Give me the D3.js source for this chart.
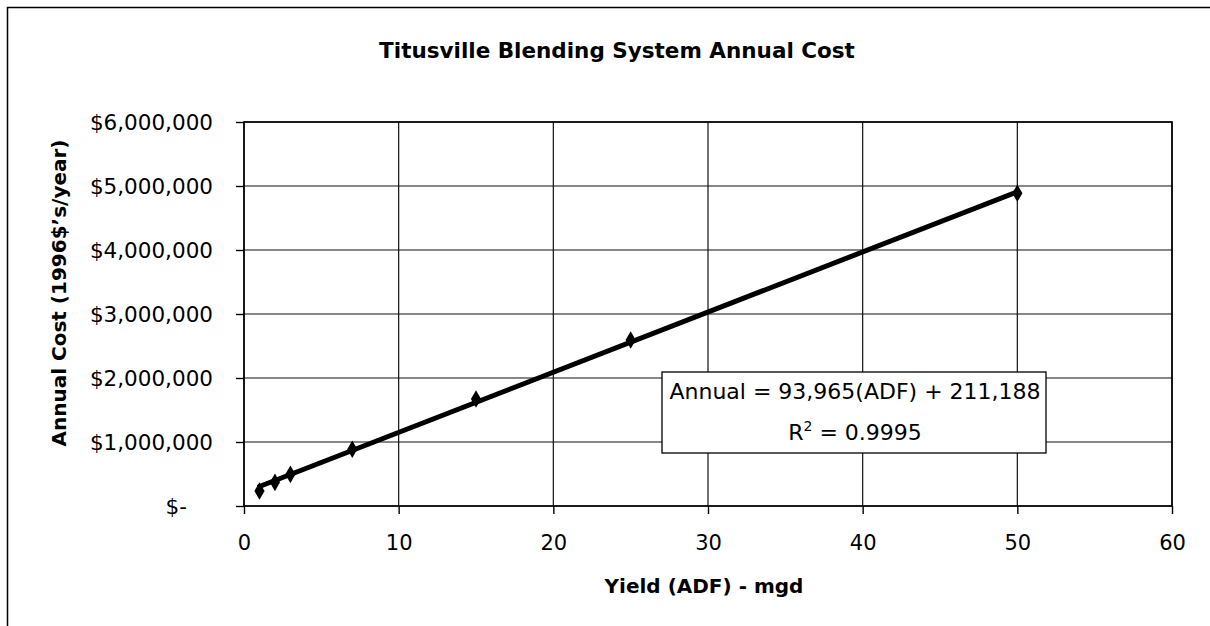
<!DOCTYPE html>
<html>
<head>
<meta charset="utf-8">
<script src="https://cdn.jsdelivr.net/npm/d3@7"></script>
<style>
  body { margin: 0; background: #fff; }
  text { font-family: "DejaVu Sans", Arial, sans-serif; fill: #000; }
</style>
</head>
<body>
<div id="chart"></div>
<script>
// yield (ADF, mgd) and annual cost (1996 $/year)
var yields = [1, 2, 3, 7, 15, 25, 50];
var costs = [234000, 370000, 495000, 886000, 1672000, 2594000, 4886000];
// linear trendline reported on the chart
var slope = 93965, intercept = 211188;
var xTicks = [0, 10, 20, 30, 40, 50, 60];
var yTicks = [0, 1000000, 2000000, 3000000, 4000000, 5000000, 6000000];

var W = 1210, H = 626;
var margin = {left: 244, right: 38, top: 122, bottom: 120};

var svg = d3.select('#chart').append('svg')
  .attr('width', W).attr('height', H);

// outer chart frame (right/bottom edges fall outside the scan)
svg.append('rect')
  .attr('x', 7.5).attr('y', 7.5)
  .attr('width', W + 20).attr('height', H + 20)
  .attr('fill', 'none').attr('stroke', '#000').attr('stroke-width', 1.5);

var x = d3.scaleLinear().domain([0, 60]).range([margin.left, W - margin.right]);
var y = d3.scaleLinear().domain([0, 6000000]).range([H - margin.bottom, margin.top]);

// gridlines
svg.append('g').selectAll('line.h').data(yTicks).enter().append('line')
  .attr('x1', x(0)).attr('x2', x(60))
  .attr('y1', function(d) { return y(d); }).attr('y2', function(d) { return y(d); })
  .attr('stroke', '#111').attr('stroke-width', 1.2);
svg.append('g').selectAll('line.v').data(xTicks).enter().append('line')
  .attr('y1', y(0)).attr('y2', y(6000000))
  .attr('x1', function(d) { return x(d); }).attr('x2', function(d) { return x(d); })
  .attr('stroke', '#111').attr('stroke-width', 1.2);

// plot border
svg.append('rect')
  .attr('x', x(0)).attr('y', y(6000000))
  .attr('width', x(60) - x(0)).attr('height', y(0) - y(6000000))
  .attr('fill', 'none').attr('stroke', '#000').attr('stroke-width', 1.6);

// axes
var fmt = d3.format('$,');
var yAxis = svg.append('g')
  .attr('transform', 'translate(' + x(0) + ',0)')
  .call(d3.axisLeft(y).tickValues(yTicks).tickSize(8).tickPadding(23)
    .tickFormat(function(d) { return d === 0 ? '$-' : fmt(d); }));
yAxis.select('.domain').remove();
yAxis.selectAll('text')
  .style('font-size', '21.5px')
  .attr('x', function(d) { return d === 0 ? -57 : -31; })
  .attr('dy', '0.36em');

var xAxis = svg.append('g')
  .attr('transform', 'translate(0,' + y(0) + ')')
  .call(d3.axisBottom(x).tickValues(xTicks).tickSize(8).tickPadding(21));
xAxis.select('.domain').remove();
xAxis.selectAll('text').style('font-size', '21px');
svg.selectAll('.tick line').attr('stroke', '#000').attr('stroke-width', 1.4);
svg.selectAll('.tick text').attr('font-family', null);

// trendline
svg.append('line')
  .attr('x1', x(yields[0])).attr('y1', y(slope * yields[0] + intercept))
  .attr('x2', x(yields[yields.length - 1]))
  .attr('y2', y(slope * yields[yields.length - 1] + intercept))
  .attr('stroke', '#000').attr('stroke-width', 5).attr('stroke-linecap', 'round');

// diamond markers
var diamond = d3.symbol().type(d3.symbolDiamond).size(90);
svg.append('g').selectAll('path').data(yields).enter().append('path')
  .attr('d', diamond)
  .attr('transform', function(d, i) { return 'translate(' + x(d) + ',' + y(costs[i]) + ')'; })
  .attr('fill', '#000');

// equation box
var box = svg.append('g');
box.append('rect')
  .attr('x', 662).attr('y', 372).attr('width', 384).attr('height', 81)
  .attr('fill', '#fff').attr('stroke', '#000').attr('stroke-width', 1.3);
box.append('text')
  .attr('x', 855).attr('y', 399).attr('text-anchor', 'middle')
  .style('font-size', '22px')
  .text('Annual = 93,965(ADF) + 211,188');
var r2 = box.append('text')
  .attr('x', 855).attr('y', 440).attr('text-anchor', 'middle')
  .style('font-size', '22px');
r2.append('tspan').text('R');
r2.append('tspan').attr('dy', -9).style('font-size', '14px').text('2');
r2.append('tspan').attr('dy', 9).text(' = 0.9995');

// titles
svg.append('text')
  .attr('x', 617).attr('y', 58).attr('text-anchor', 'middle')
  .style('font-size', '21.5px').style('font-weight', 'bold')
  .text('Titusville Blending System Annual Cost');
svg.append('text')
  .attr('x', 704).attr('y', 593).attr('text-anchor', 'middle')
  .style('font-size', '20px').style('font-weight', 'bold')
  .text('Yield (ADF) - mgd');
svg.append('text')
  .attr('transform', 'translate(66,293) rotate(-90)')
  .attr('text-anchor', 'middle')
  .style('font-size', '20px').style('font-weight', 'bold')
  .text('Annual Cost (1996$\u2019s/year)');
</script>
</body>
</html>
